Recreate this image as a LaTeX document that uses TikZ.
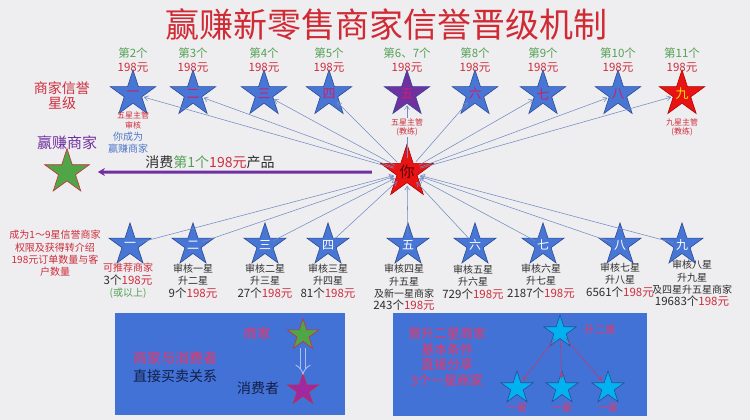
\documentclass[tikz,border=0pt]{standalone}
\usepackage{fontspec}
\setmainfont{Noto Sans CJK SC}
\usetikzlibrary{shapes.geometric,arrows.meta}
\definecolor{bg}{RGB}{238,238,240}
\definecolor{titlered}{RGB}{208,42,52}
\definecolor{tred}{RGB}{205,45,60}
\definecolor{tgreen}{RGB}{85,160,85}
\definecolor{starblue}{RGB}{72,118,212}
\definecolor{starline}{RGB}{45,75,150}
\definecolor{starmag}{RGB}{205,30,110}
\definecolor{mypurple}{RGB}{112,48,160}
\definecolor{linec}{RGB}{115,140,195}
\definecolor{boxblue}{RGB}{66,114,214}
\definecolor{cyanstar}{RGB}{0,178,240}
\definecolor{navy}{RGB}{20,30,70}
\definecolor{pinkred}{RGB}{238,52,100}
\definecolor{dgray}{RGB}{45,45,45}
\definecolor{youred}{RGB}{232,20,20}
\definecolor{yel}{RGB}{255,220,0}
\definecolor{gstarfill}{RGB}{80,165,70}
\definecolor{pstarfill}{RGB}{160,40,160}
\definecolor{arrowpink}{RGB}{190,60,115}
\definecolor{dblline}{RGB}{175,188,240}
\newcommand{\fsz}[2]{\fontsize{#1}{#2}\selectfont}
\begin{document}
\begin{tikzpicture}[x=1pt,y=-1pt,
  basestar/.style={star, star points=5, star point ratio=2.618, inner sep=0pt, line width=0.6pt},
  tstar/.style={basestar, minimum size=40pt, fill=starblue, draw=starline, text=starmag, font=\fsz{13}{13}},
  tstarp/.style={tstar, fill=mypurple, text=starmag},
  tstarr/.style={tstar, fill=youred, draw=red!70!black, text=yel},
  bstar/.style={basestar, minimum size=34pt, fill=starblue, draw=starline, text=white, font=\fsz{12}{12}},
  cstar/.style={basestar, minimum size=34pt, fill=cyanstar, draw=starline},
  hit/.style={circle, inner sep=0pt, draw=none, fill=none, minimum size=#1},
  conn/.style={draw=linec, line width=0.55pt, -{Straight Barb[length=4pt,width=5pt]}},
  blabel/.style={align=center, text=dgray, font=\fsz{10}{12.4}, inner sep=0pt},
  box/.style={rectangle, fill=boxblue, inner sep=0pt}
]
\useasboundingbox (0,0) rectangle (750,420);
\fill[bg] (0,0) rectangle (750,420);

% title
\node[text=titlered, font=\fsz{34}{36}] (title) at (386,25) {赢赚新零售商家信誉晋级机制};

% top stars
\foreach \x/\c/\s/\n [count=\i] in {133/一/tstar/第2个, 193/二/tstar/第3个, 264/三/tstar/第4个, 329/四/tstar/第5个, 407/五/tstarp/第6、7个, 475/六/tstar/第8个, 543/七/tstar/第9个, 618/八/tstar/第10个, 682/九/tstarr/第11个}{
  \node[\s] (t\i) at (\x,94) {\c};
  \node[hit=22pt] (t\i h) at (\x,94) {};
  \node[text=tgreen, font=\fsz{11.5}{12}] (tn\i) at (\x,53) {\n};
  \node[text=tred, font=\fsz{11.5}{12}] (tp\i) at (\x,68) {198元};
}

% bottom stars
\foreach \x/\c [count=\i] in {130/一, 193/二, 265/三, 328/四, 408/五, 475/六, 543/七, 620/八, 682/九}{
  \node[bstar] (b\i) at (\x,245) {\c};
  \node[hit=18pt] (b\i h) at (\x,245) {};
}

% center star
\node[basestar, minimum size=47pt, fill=youred, draw=red!70!black, text=red!35!black, font=\fsz{15}{15}] (you) at (407,172) {你};
\node[hit=27pt] (youh) at (407,172) {};

% left green star
\node[basestar, minimum size=47pt, fill=gstarfill, draw=tred] (gstar) at (67,172) {};

% connectors
\foreach \i in {1,...,9}{
  \draw[conn] (youh) -- (t\i h);
  \draw[conn] (b\i h) -- (youh);
}

% purple arrow
\draw[mypurple, line width=3pt, {Stealth[length=7pt,width=8pt]}-, shorten <=18pt, shorten >=20pt] (gstar.east) -- (you.west);

% labels near top stars
\node[align=center, text=tred, font=\fsz{8}{10}] (l1) at (133,120) {五星主管\\审核};
\node[align=center, text=tred, font=\fsz{8}{9.5}, fill=bg, inner sep=1pt] (l5) at (407,127.5) {五星主管\\(教练)};
\node[align=center, text=tred, font=\fsz{8}{9.5}] (l9) at (682,127.5) {九星主管\\(教练)};
\node[align=center, text=starblue!85!gray, font=\fsz{10}{11.5}] (lyou) at (128,142.5) {你成为\\赢赚商家};

% left texts
\node[align=center, text=tred, font=\fsz{14}{15.5}] (lev) at (62,95.5) {商家信誉\\星级};
\node[text=mypurple, font=\fsz{15}{16}] (ywin) at (67,143) {赢赚商家};
\node[text=dgray, font=\fsz{14}{15}] (buy) at (210,162) {消费\textcolor{tgreen}{第1个}\textcolor{tred}{198元}产品};
\node[align=center, text=tred, font=\fsz{10}{12.3}] (cond) at (55,253.5) {成为1～9星信誉商家\\权限及获得转介绍\\198元订单数量与客\\户数量};

% bottom labels
\node[blabel] (bl1) at (128,281) {\textcolor{tred}{可推荐商家}\\{\fsz{11.5}{12.4}3个\textcolor{tred}{198元}}\\\textcolor{tgreen}{(或以上)}};
\node[blabel] (bl2) at (193,281) {审核一星\\升二星\\{\fsz{11.5}{12.4}9个\textcolor{tred}{198元}}};
\node[blabel] (bl3) at (265,281) {审核二星\\升三星\\{\fsz{11.5}{12.4}27个\textcolor{tred}{198元}}};
\node[blabel] (bl4) at (328,281) {审核三星\\升四星\\{\fsz{11.5}{12.4}81个\textcolor{tred}{198元}}};
\node[blabel] (bl5) at (404,287.5) {审核四星\\升五星\\及新一星商家\\{\fsz{11.5}{12.4}243个\textcolor{tred}{198元}}};
\node[blabel] (bl6) at (473,282) {审核五星\\升六星\\{\fsz{11.5}{12.4}729个\textcolor{tred}{198元}}};
\node[blabel] (bl7) at (541,281) {审核六星\\升七星\\{\fsz{11.5}{12.4}2187个\textcolor{tred}{198元}}};
\node[blabel] (bl8) at (620,280) {审核七星\\升八星\\{\fsz{11.5}{12.4}6561个\textcolor{tred}{198元}}};
\node[blabel] (bl9) at (692,283.5) {审核八星\\升九星\\及四星升五星商家\\{\fsz{11.5}{12.4}19683个\textcolor{tred}{198元}}};

% box 1
\node[box, minimum width=230pt, minimum height=102pt] (box1) at (230,364) {};
\node[text=pinkred, font=\fsz{13.5}{14}] (m1t) at (257,333) {商家};
\node[basestar, minimum size=33pt, fill=gstarfill, draw=tred] (m1) at (303,335) {};
\node[text=navy, font=\fsz{14}{15}] (c1t) at (258,388) {消费者};
\node[basestar, minimum size=33pt, fill=pstarfill, draw=tred] (c1) at (303,390) {};
\node[hit=14pt] (m1h) at (303,335) {};
\node[hit=14pt] (c1h) at (303,390) {};
\draw[draw=dblline, double=boxblue, double distance=4.5pt, line width=0.9pt, -{Implies[length=5pt]}, shorten <=6pt, shorten >=8pt] (m1h) -- (c1h);
\node[align=center, font=\fsz{14}{18}] (rel) at (175,367) {\textcolor{pinkred}{商家与消费者}\\\textcolor{navy}{直接买卖关系}};

% box 2
\node[box, minimum width=254pt, minimum height=103pt] (box2) at (520,364.5) {};
\node[align=center, text=pinkred, font=\fsz{13}{15.7}] (cond2) at (447,357) {晋升二星商家\\基本条件\\直接分享\\3个一星商家};
\node[cstar] (s0) at (560,332) {};
\node[text=pinkred, font=\fsz{10.5}{11}] (s0t) at (600,330) {升二星};
\node[cstar] (s1) at (517,388) {};
\node[cstar] (s2) at (562,388) {};
\node[cstar] (s3) at (608,388) {};
\node[hit=16pt] (s0h) at (560,332) {};
\foreach \x [count=\i] in {517,562,608}{
  \node[hit=18pt] (s\i h) at (\x,388) {};
  \node[text=pinkred, font=\fsz{10}{11}] (s\i t) at (\x,408) {一星};
  \draw[arrowpink, line width=0.6pt, -{Stealth[length=5pt,width=4pt]}] (s0h) -- (s\i h);
}
\end{tikzpicture}
\end{document}
